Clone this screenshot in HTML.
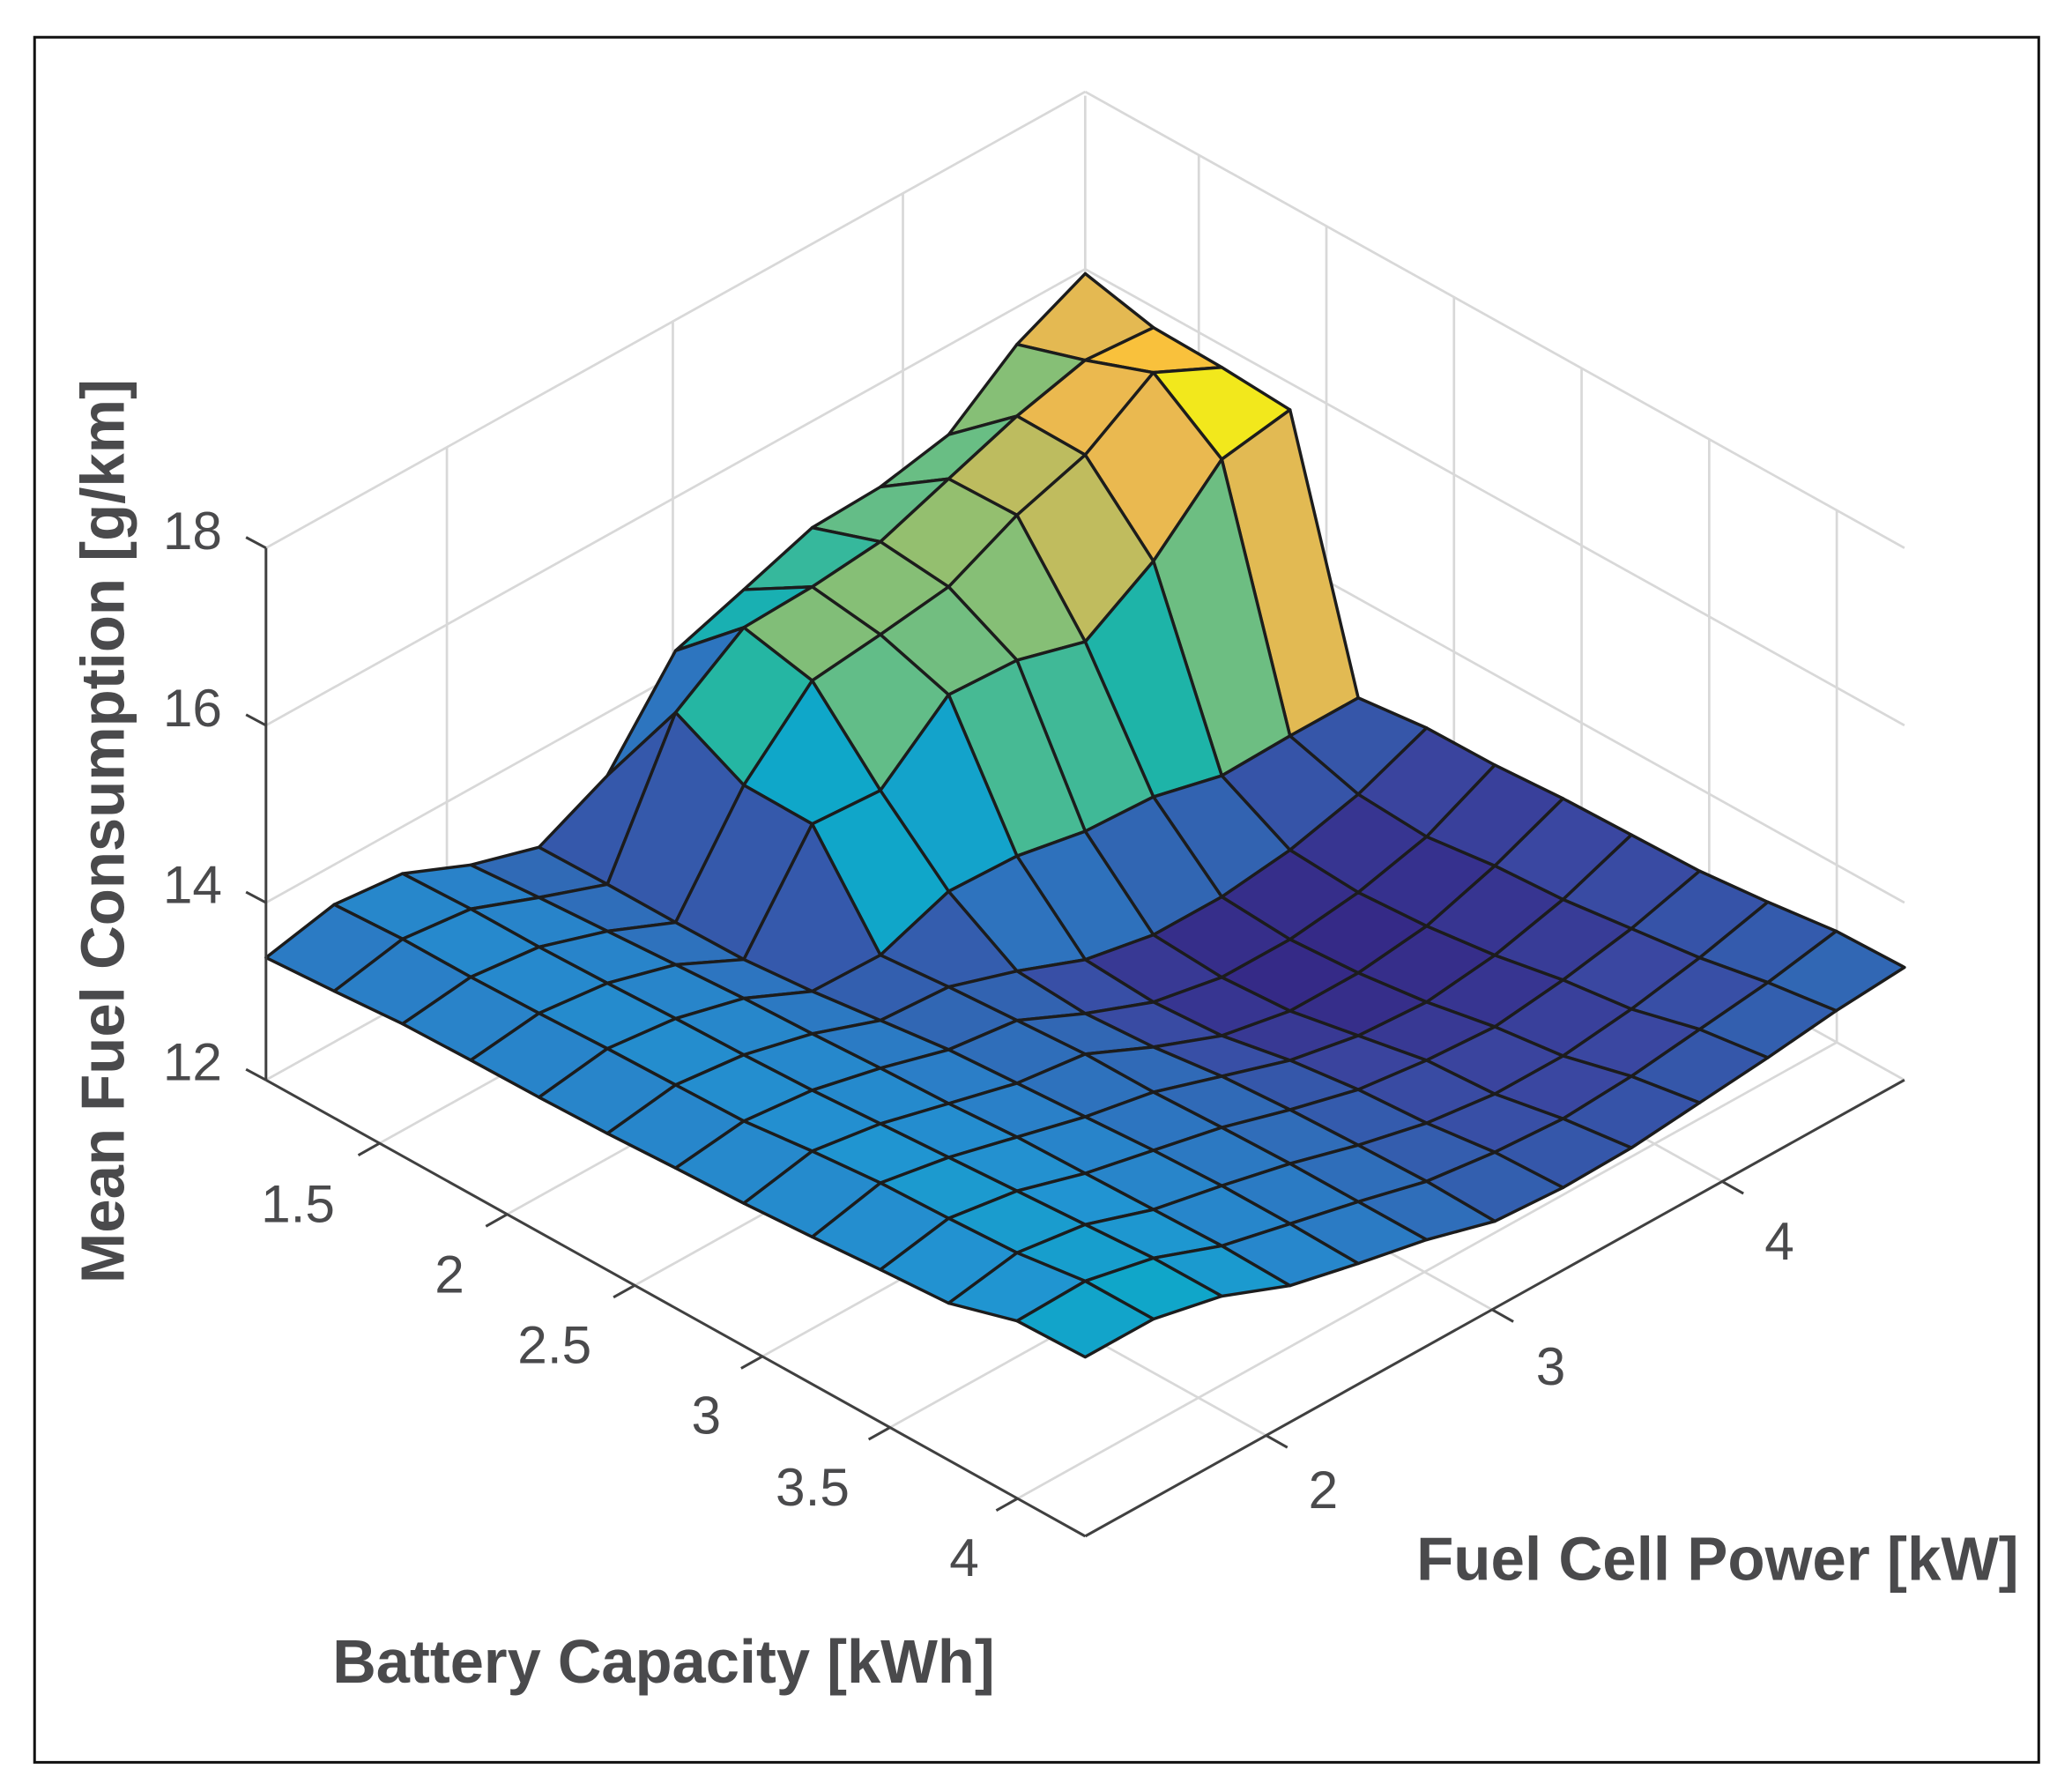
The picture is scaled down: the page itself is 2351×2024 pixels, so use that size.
<!DOCTYPE html>
<html><head><meta charset="utf-8"><style>
html,body{margin:0;padding:0;background:#fff;}
svg{display:block;}
text{font-family:"Liberation Sans",Arial,sans-serif;fill:#4a4a4c;}
</style></head><body>
<svg id="s" xmlns="http://www.w3.org/2000/svg" width="2351" height="2024" viewBox="0 0 1558 1341.3" preserveAspectRatio="none">
<rect x="0" y="0" width="1558" height="1341.3" fill="#fff"/>
<rect x="26" y="28" width="1507" height="1297" fill="none" stroke="#111" stroke-width="2"/>
<g id="grid" stroke="#d8d8d8" stroke-width="1.8" fill="none"></g>
<g id="surf" stroke="#1c1c1c" stroke-width="2.3" stroke-linejoin="round"></g>
<g id="axes" stroke="#404040" stroke-width="2" fill="none"></g>
<g font-size="40" text-anchor="end">
<text x="167" y="413">18</text>
<text x="167" y="546">16</text>
<text x="167" y="679">14</text>
<text x="167" y="812">12</text>
</g>
<g font-size="40" text-anchor="middle">
<text x="224" y="919">1.5</text>
<text x="338" y="972">2</text>
<text x="417" y="1025">2.5</text>
<text x="531" y="1078">3</text>
<text x="611" y="1132">3.5</text>
<text x="725" y="1185">4</text>
<text x="995" y="1134">2</text>
<text x="1166" y="1041">3</text>
<text x="1338" y="947">4</text>
</g>
<g font-size="46" font-weight="bold">
<text x="250" y="1265" textLength="498" lengthAdjust="spacingAndGlyphs">Battery Capacity [kWh]</text>
<text x="1065" y="1188" textLength="453" lengthAdjust="spacingAndGlyphs">Fuel Cell Power [kW]</text>
<text transform="translate(93,965) rotate(-90)" x="0" y="0" textLength="680" lengthAdjust="spacingAndGlyphs">Mean Fuel Consumption [g/km]</text>
</g>
</svg>
<script>
(function(){
var NS="http://www.w3.org/2000/svg";
function el(p,tag,a){var e=document.createElementNS(NS,tag);for(var k in a)e.setAttribute(k,a[k]);p.appendChild(e);return e;}
var g=document.getElementById('grid'),ax=document.getElementById('axes'),sf=document.getElementById('surf');
function L(p,x1,y1,x2,y2){el(p,'line',{x1:x1,y1:y1,x2:x2,y2:y2});}
var dx=51.333,dy=28.583,dz=66.667;
var iT=[],jT=[2.65,5.96,9.33];
for(var k=0;k<6;k++)iT.push(1.664+1.869*k);
for(var z=12;z<=18;z+=2){var o=(z-12)*dz;
 L(g,200,812-o,816,469-o);L(g,816,469-o,1432,812-o);}
jT.forEach(function(j){var x=200+dx*j,y=812-dy*j;L(g,x,y,x,y-400);});
iT.forEach(function(i){var x=816+dx*i,y=469+dy*i;L(g,x,y,x,y-400);});
L(g,816,469,816,72);
iT.forEach(function(i){L(g,200+dx*i,812+dy*i,816+dx*i,469+dy*i);});
jT.forEach(function(j){L(g,200+dx*j,812-dy*j,816+dx*j,1155-dy*j);});
L(ax,200,812,200,412);L(ax,200,812,816,1155);L(ax,816,1155,1432,812);
for(var z=12;z<=18;z+=2){var y=812-(z-12)*dz;L(ax,200,y,185,y-8);}
iT.forEach(function(i){var x=200+dx*i,y=812+dy*i;L(ax,x,y,x-16,y+9);});
jT.forEach(function(j){var x=816+dx*j,y=1155-dy*j;L(ax,x,y,x+16,y+9);});
var Z=[
[13.38,13.55,13.47,13.14,12.91,13.29,14.27,14.53,14.80,14.83,14.99,15.58,15.95],
[13.43,13.59,13.50,13.20,12.92,14.43,14.96,14.99,15.07,15.35,15.63,15.83,15.77],
[13.49,13.59,13.50,13.25,12.92,14.04,14.79,14.88,14.99,15.37,15.62,16.12,15.75],
[13.51,13.61,13.52,13.30,12.93,14.03,13.98,14.63,14.59,14.37,14.85,15.57,15.70],
[13.52,13.64,13.55,13.35,13.00,12.98,13.27,13.24,13.09,13.05,12.86,12.88,12.88],
[13.54,13.66,13.57,13.38,13.10,13.05,12.80,12.50,12.35,12.35,12.45,12.65,12.97],
[13.58,13.68,13.60,13.42,13.20,13.10,12.75,12.45,12.30,12.30,12.40,12.60,12.98],
[13.61,13.77,13.65,13.45,13.25,13.15,12.80,12.50,12.35,12.35,12.45,12.70,13.03],
[13.66,13.84,13.70,13.50,13.30,13.15,12.90,12.65,12.50,12.45,12.55,12.75,13.05],
[13.72,13.87,13.75,13.52,13.35,13.18,12.95,12.75,12.65,12.60,12.70,12.85,13.07],
[13.77,13.91,13.80,13.54,13.38,13.20,12.98,12.80,12.70,12.70,12.80,12.95,13.15],
[14.00,14.02,13.85,13.56,13.38,13.20,13.00,12.90,12.85,12.90,13.00,13.10,13.25],
[14.02,14.02,13.85,13.54,13.36,13.20,12.98,12.93,12.95,13.03,13.11,13.21,13.27]];
var st=[[0,53,42,135],[0.10,58,70,160],[0.20,50,100,178],[0.30,42,128,200],[0.38,33,148,210],[0.46,14,168,200],[0.55,32,181,165],[0.64,90,189,140],[0.72,145,191,112],[0.80,190,188,95],[0.87,235,185,80],[0.93,251,194,58],[1,242,232,28]];
function col(z){var t=(z-12.3)/(16.12-12.3);t=Math.max(0,Math.min(1,t));
 for(var k=1;k<st.length;k++){if(t<=st[k][0]){var a=st[k-1],b=st[k],f=(t-a[0])/(b[0]-a[0]);
  return 'rgb('+[1,2,3].map(function(c){return Math.round(a[c]+(b[c]-a[c])*f);}).join(',')+')';}}
 return 'rgb(242,232,28)';}
function P(i,j){return (200+dx*(i+j)).toFixed(1)+','+(812+dy*(i-j)-dz*(Z[i][j]-12)).toFixed(1);}
var cells=[];
for(var i=0;i<12;i++)for(var j=0;j<12;j++)cells.push([i,j]);
cells.sort(function(a,b){var d=(a[0]-a[1])-(b[0]-b[1]);if(d)return d;return (a[0]+a[1])-(b[0]+b[1]);});
cells.forEach(function(c){var i=c[0],j=c[1];
 el(sf,'polygon',{points:[P(i,j),P(i+1,j),P(i+1,j+1),P(i,j+1)].join(' '),fill:col(Z[i][j])});});
})();
</script>
</body></html>
